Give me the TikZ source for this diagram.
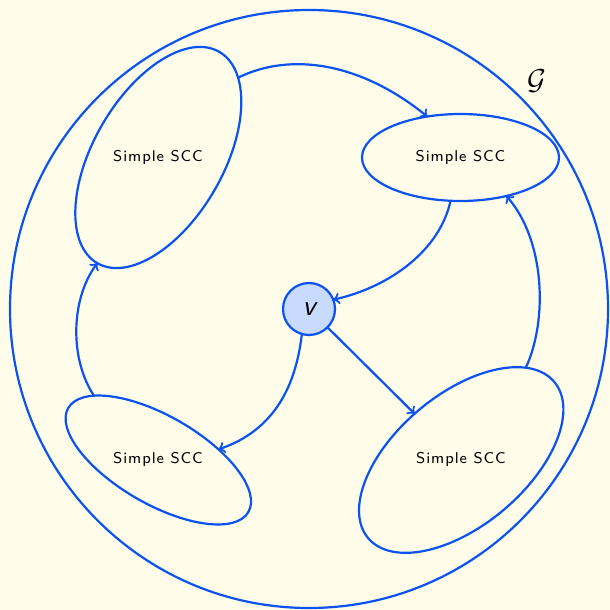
\documentclass[tikz,border=0pt]{standalone}
\usepackage{fontspec}
\usetikzlibrary{shapes.geometric}
\definecolor{bgc}{HTML}{FFFDEA}
\definecolor{edgeblue}{HTML}{0A52F2}
\definecolor{vfill}{HTML}{C9DAFF}
\newfontfamily\sccfam{lmsans8-regular.otf}[LetterSpace=6]
\newcommand{\sccfont}{\sccfam\fontsize{7.8}{9}\selectfont}
\begin{document}
\begin{tikzpicture}[x=0.5pt,y=-0.5pt, line width=1.1pt,
  sccbox/.style={ellipse, draw=edgeblue, inner sep=0pt, outer sep=0pt},
  scctext/.style={font=\sccfont, text=black},
  conn/.style={draw=edgeblue, ->}]
\fill[bgc] (0,0) rectangle (610,610);
\useasboundingbox (0,0) rectangle (610,610);
\node[circle, draw=edgeblue, minimum size=299pt, inner sep=0pt, outer sep=0pt] (G) at (309,309) {};
\node[font=\fontsize{14.4}{17}\selectfont, anchor=base, inner sep=0pt] (Glabel) at (536.5,90) {$\mathcal{G}$};
\node[sccbox, minimum width=122pt, minimum height=65pt, rotate=60] (e1) at (158.3,157.5) {};
\node[sccbox, minimum width=98.5pt, minimum height=43.5pt] (e2) at (460.5,157.5) {};
\node[sccbox, minimum width=104pt, minimum height=44pt, rotate=-30] (e3) at (158.3,460) {};
\node[sccbox, minimum width=121.5pt, minimum height=65.5pt, rotate=40] (e4) at (461.2,460) {};
\node[scctext] (t1) at (158,157) {Simple SCC};
\node[scctext] (t2) at (460.5,157) {Simple SCC};
\node[scctext] (t3) at (158,459.5) {Simple SCC};
\node[scctext] (t4) at (461,459.5) {Simple SCC};
\node[circle, draw=edgeblue, fill=vfill, minimum size=26pt, inner sep=0pt, outer sep=0pt,
      font=\fontsize{14.4}{17}\selectfont\sffamily\itshape] (v) at (309,309) {v};
\draw[conn] (e1.345) .. controls (290,52) and (360,62) .. (e2.129);
\draw[conn] (e2.257) .. controls (440,250) and (390,287) .. (v.21);
\draw[conn] (e4.15) .. controls (548,320) and (545,240) .. (e2.320);
\draw[conn] (v.254) .. controls (296,385) and (275,430) .. (e3.40);
\draw[conn] (v) -- (e4);
\draw[conn] (e3.165) .. controls (70,360) and (70,300) .. (e1.180);
\end{tikzpicture}
\end{document}
